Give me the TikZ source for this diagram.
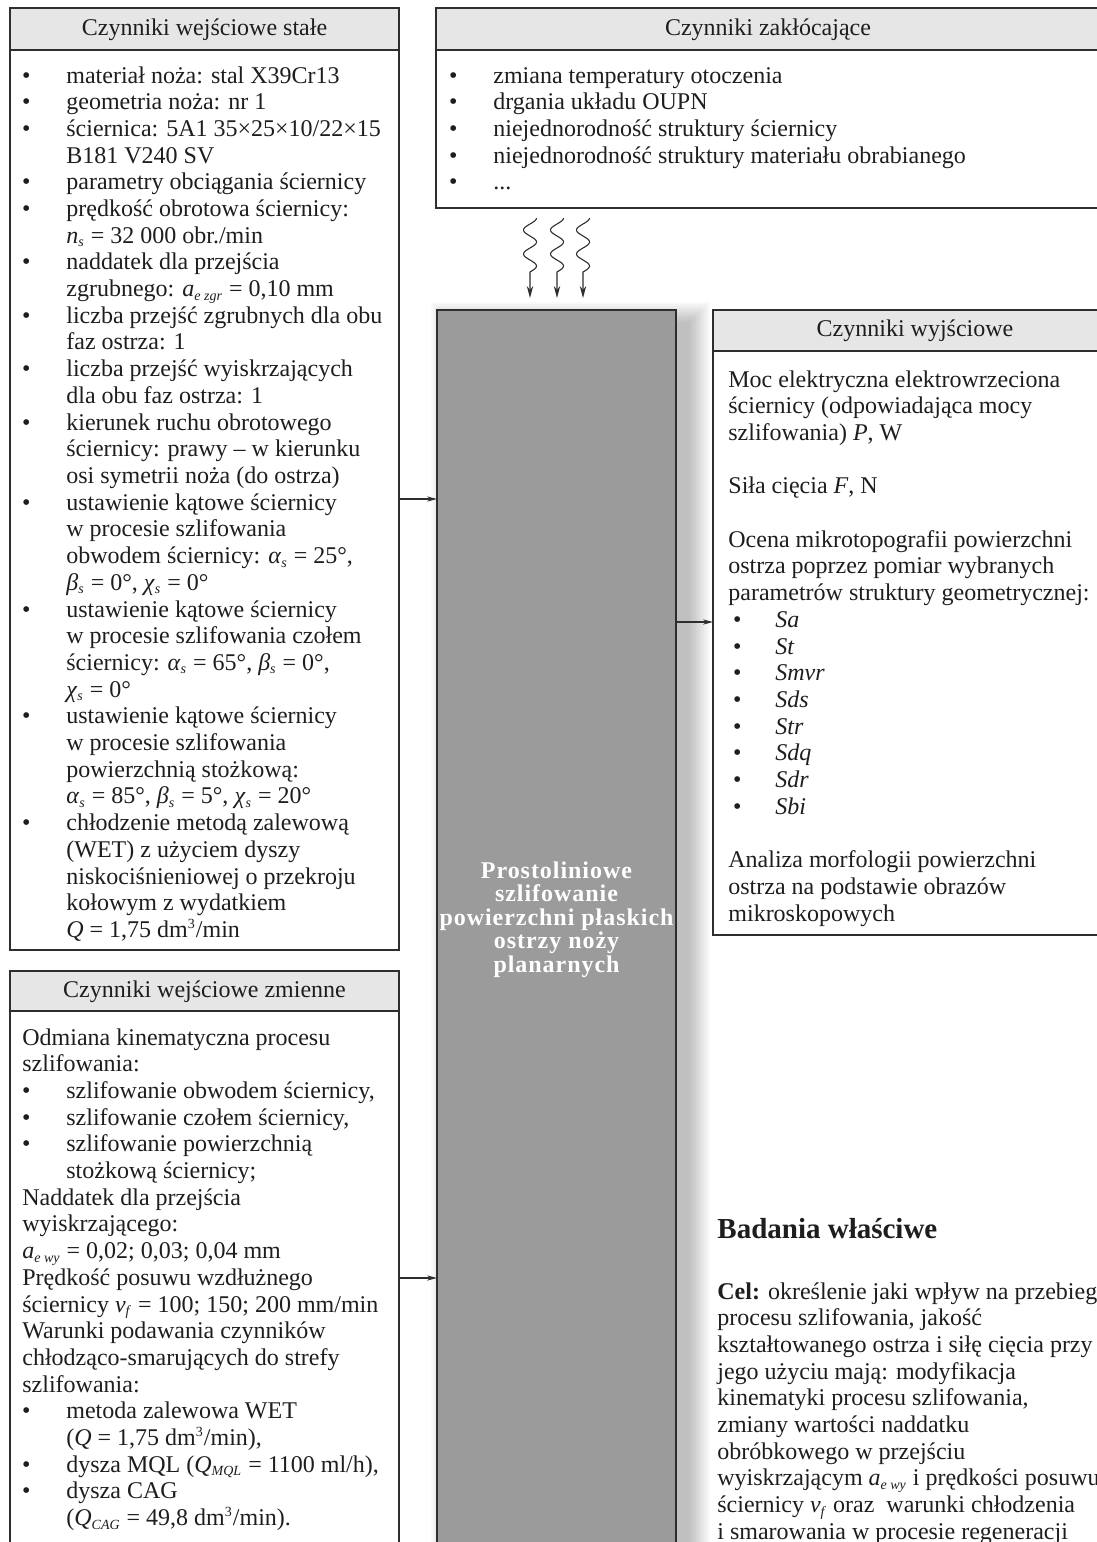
\documentclass[tikz,border=0pt]{standalone}
\usepackage{fontspec}
\setmainfont{Liberation Serif}
\usetikzlibrary{arrows.meta}

\definecolor{ink}{HTML}{1E1E1E}
\definecolor{edge}{HTML}{2E2E2E}
\definecolor{headfill}{HTML}{E6E6E6}
\definecolor{corefill}{HTML}{9B9B9B}

% list lines: bullet line, continuation line, plain line, empty line
\newlength\bxoff \newlength\txoff \newlength\pxoff
\newcommand\bl[1]{\par\noindent\rlap{\hspace*{\bxoff}\textbullet}\hspace*{\txoff}#1}
\newcommand\cl[1]{\par\noindent\hspace*{\txoff}#1}
\newcommand\pl[1]{\par\noindent\hspace*{\pxoff}#1}
\newcommand\el{\par\noindent\strut}
\newcommand\is[2]{\textit{#1}\textsubscript{\fontsize{7}{7}\selectfont\textit{#2}}}
\newcommand\cube{\textsuperscript{\fontsize{7}{7}\selectfont 3}}

\tikzset{
  boxframe/.style={draw=edge, line width=0.8pt, anchor=north west, inner sep=0pt, outer sep=0pt},
  boxhead/.style={boxframe, fill=headfill},
  corebox/.style={boxframe, fill=corefill},
  bodytext/.style={anchor=base west, inner sep=0pt, text=ink, font=\fontsize{12}{13.35}\selectfont},
  headtext/.style={anchor=base, inner sep=0pt, text=ink, font=\fontsize{12}{13.35}\selectfont},
  feedarrow/.style={draw=edge, line width=0.6pt, -{Stealth[length=5pt,width=2.6pt]}},
  wavearrow/.style={draw=edge, line width=0.55pt, -{Stealth[length=6pt,width=3.2pt]}},
}

\begin{document}
\begin{tikzpicture}[x=0.5pt, y=-0.5pt]
\useasboundingbox (0,0) rectangle (1097,1542);
\clip (0,0) rectangle (1097,1542);
\fill[white] (0,0) rectangle (1097,1542);

% soft shadow of the process block
\foreach \r in {0,2,...,20}
  \fill[black, opacity=0.025] (451-\r,322-\r) rectangle (690+\r,1600);

% ---------- boxes ----------
\node[boxframe, minimum width=194.5pt, minimum height=471pt] (b1) at (10,8) {};
\node[boxhead, minimum width=194.5pt, minimum height=21pt] (h1) at (10,8) {};

\node[boxframe, minimum width=334pt, minimum height=100pt] (b3) at (436,8) {};
\node[boxhead, minimum width=334pt, minimum height=21pt] (h3) at (436,8) {};

\node[corebox, minimum width=119.5pt, minimum height=645pt] (core) at (437,310) {};

\node[boxframe, minimum width=202pt, minimum height=312.5pt] (out) at (713,310) {};
\node[boxhead, minimum width=202pt, minimum height=20.5pt] (hout) at (713,310) {};

\node[boxframe, minimum width=194.5pt, minimum height=314.5pt] (b2) at (10,971) {};
\node[boxhead, minimum width=194.5pt, minimum height=20pt] (h2) at (10,971) {};

% ---------- headings ----------
\node[headtext] (t1) at (204.5,35) {Czynniki wejściowe stałe};
\node[headtext] (t3) at (768,35) {Czynniki zakłócające};
\node[headtext] (tout) at (915,336) {Czynniki wyjściowe};
\node[headtext] (t2) at (204.5,997) {Czynniki wejściowe zmienne};

% ---------- constant inputs ----------
\node[bodytext] (l1) at (10,83) {\parbox[t]{300pt}{%
\setlength\parskip{0pt}\setlength\bxoff{5.9pt}\setlength\txoff{28pt}%
\bl{materiał noża: stal X39Cr13}
\bl{geometria noża: nr 1}
\bl{ściernica: 5A1 35×25×10/22×15}
\cl{B181 V240 SV}
\bl{parametry obciągania ściernicy}
\bl{prędkość obrotowa ściernicy:}
\cl{\is{n}{s} = 32 000 obr./min}
\bl{naddatek dla przejścia}
\cl{zgrubnego: \is{a}{e zgr} = 0,10 mm}
\bl{liczba przejść zgrubnych dla obu}
\cl{faz ostrza: 1}
\bl{liczba przejść wyiskrzających}
\cl{dla obu faz ostrza: 1}
\bl{kierunek ruchu obrotowego}
\cl{ściernicy: prawy – w kierunku}
\cl{osi symetrii noża (do ostrza)}
\bl{ustawienie kątowe ściernicy}
\cl{w procesie szlifowania}
\cl{obwodem ściernicy: \is{α}{s} = 25°,}
\cl{\is{β}{s} = 0°, \is{χ}{s} = 0°}
\bl{ustawienie kątowe ściernicy}
\cl{w procesie szlifowania czołem}
\cl{ściernicy: \is{α}{s} = 65°, \is{β}{s} = 0°,}
\cl{\is{χ}{s} = 0°}
\bl{ustawienie kątowe ściernicy}
\cl{w procesie szlifowania}
\cl{powierzchnią stożkową:}
\cl{\is{α}{s} = 85°, \is{β}{s} = 5°, \is{χ}{s} = 20°}
\bl{chłodzenie metodą zalewową}
\cl{(WET) z użyciem dyszy}
\cl{niskociśnieniowej o przekroju}
\cl{kołowym z wydatkiem}
\cl{\textit{Q} = 1,75 dm\cube/min}}};

% ---------- disturbances ----------
\node[bodytext] (l3) at (436,83) {\parbox[t]{330pt}{%
\setlength\parskip{0pt}\setlength\bxoff{6.4pt}\setlength\txoff{28.5pt}%
\bl{zmiana temperatury otoczenia}
\bl{drgania układu OUPN}
\bl{niejednorodność struktury ściernicy}
\bl{niejednorodność struktury materiału obrabianego}
\bl{...}}};

% ---------- outputs ----------
\node[bodytext] (lout) at (713,387) {\parbox[t]{300pt}{%
\setlength\parskip{0pt}\setlength\bxoff{9.9pt}\setlength\txoff{31pt}\setlength\pxoff{7.5pt}%
\pl{Moc elektryczna elektrowrzeciona}
\pl{ściernicy (odpowiadająca mocy}
\pl{szlifowania) \textit{P}, W}
\el
\pl{Siła cięcia \textit{F}, N}
\el
\pl{Ocena mikrotopografii powierzchni}
\pl{ostrza poprzez pomiar wybranych}
\pl{parametrów struktury geometrycznej:}
\bl{\textit{Sa}}
\bl{\textit{St}}
\bl{\textit{Smvr}}
\bl{\textit{Sds}}
\bl{\textit{Str}}
\bl{\textit{Sdq}}
\bl{\textit{Sdr}}
\bl{\textit{Sbi}}
\el
\pl{Analiza morfologii powierzchni}
\pl{ostrza na podstawie obrazów}
\pl{mikroskopowych}}};

% ---------- variable inputs ----------
\node[bodytext] (l2) at (10,1045) {\parbox[t]{300pt}{%
\setlength\parskip{0pt}\setlength\bxoff{5.9pt}\setlength\txoff{28pt}\setlength\pxoff{6pt}%
\pl{Odmiana kinematyczna procesu}
\pl{szlifowania:}
\bl{szlifowanie obwodem ściernicy,}
\bl{szlifowanie czołem ściernicy,}
\bl{szlifowanie powierzchnią}
\cl{stożkową ściernicy;}
\pl{Naddatek dla przejścia}
\pl{wyiskrzającego:}
\pl{\is{a}{e wy} = 0,02; 0,03; 0,04 mm}
\pl{Prędkość posuwu wzdłużnego}
\pl{ściernicy \is{v}{f} = 100; 150; 200 mm/min}
\pl{Warunki podawania czynników}
\pl{chłodząco-smarujących do strefy}
\pl{szlifowania:}
\bl{metoda zalewowa WET}
\cl{(\textit{Q} = 1,75 dm\cube/min),}
\bl{dysza MQL (\is{Q}{MQL} = 1100 ml/h),}
\bl{dysza CAG}
\cl{(\is{Q}{CAG} = 49,8 dm\cube/min).}}};

% ---------- process block label ----------
\node[anchor=base, inner sep=0pt, text=white] (corelabel) at (556.5,878)
  {\parbox[t]{118pt}{\centering\fontsize{12}{11.8}\selectfont\bfseries\addfontfeatures{LetterSpace=4}%
   Prostoliniowe\\szlifowanie\\powierzchni płaskich\\ostrzy noży\\planarnych}};

% ---------- research goal ----------
\node[anchor=base west, inner sep=0pt, text=ink] (goalhead) at (717,1238)
  {\fontsize{14.5}{16}\selectfont\bfseries Badania właściwe};
\node[bodytext] (goal) at (717,1299) {\parbox[t]{300pt}{%
\setlength\parskip{0pt}\setlength\pxoff{0pt}%
\pl{\textbf{Cel:} określenie jaki wpływ na przebieg}
\pl{procesu szlifowania, jakość}
\pl{kształtowanego ostrza i siłę cięcia przy}
\pl{jego użyciu mają: modyfikacja}
\pl{kinematyki procesu szlifowania,}
\pl{zmiany wartości naddatku}
\pl{obróbkowego w przejściu}
\pl{wyiskrzającym \is{a}{e wy} i prędkości posuwu}
\pl{ściernicy \is{v}{f} oraz\ \ warunki chłodzenia}
\pl{i smarowania w procesie regeneracji}}};

% ---------- connectors ----------
\coordinate (r1) at (0,499);
\coordinate (r2) at (0,1278);
\coordinate (r3) at (0,622);
\draw[feedarrow] (b1.east |- r1) -- (core.west |- r1);
\draw[feedarrow] (b2.east |- r2) -- (core.west |- r2);
\draw[feedarrow] (core.east |- r3) -- (out.west |- r3);

% disturbance arrows
\foreach \wx in {530,557,583}
  \draw[wavearrow] plot[domain=0:54, samples=60, smooth, variable=\t]
     ({\wx + 6.5*cos(\t*15)}, {218+\t}) -- (\wx,298);
\end{tikzpicture}
\end{document}
